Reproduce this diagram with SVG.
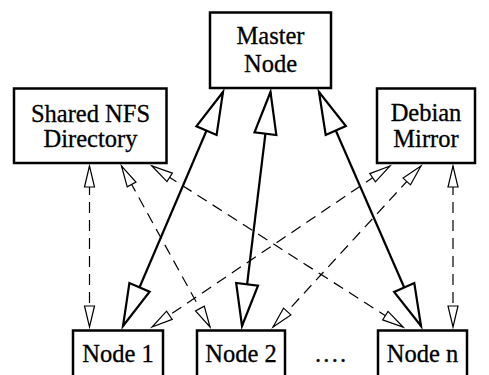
<svg xmlns="http://www.w3.org/2000/svg" width="489" height="375" viewBox="0 0 489 375">
  <style>
    .box { fill: #fff; stroke: #000; stroke-width: 2.5; }
    .lbl { fill: #000; stroke: #000; stroke-width: 0.3; text-anchor: middle; font-family: "Liberation Serif", "Times New Roman", serif; font-size: 24.5px; }
    .solid { fill: none; stroke: #000; stroke-width: 2.2; marker-start: url(#bigHead); marker-end: url(#bigHead); }
    .dash { fill: none; stroke: #000; stroke-width: 1.2; stroke-dasharray: 11 7; marker-start: url(#smallHead); marker-end: url(#smallHead); }
  </style>
  <defs>
    <!-- large hollow head for master links -->
    <marker id="bigHead" markerUnits="userSpaceOnUse" orient="auto-start-reverse" refX="0" refY="0" markerWidth="60" markerHeight="30" overflow="visible">
      <path d="M0,0 L-42,-11 L-42,11 Z" fill="#fff" stroke="#000" stroke-width="2.2" stroke-linejoin="miter" stroke-miterlimit="10"/>
    </marker>
    <!-- small hollow head for service links -->
    <marker id="smallHead" markerUnits="userSpaceOnUse" orient="auto-start-reverse" refX="0" refY="0" markerWidth="30" markerHeight="14" overflow="visible">
      <path d="M0,0 L-21,-5 L-21,5 Z" fill="#fff" stroke="#000" stroke-width="1.2" stroke-linejoin="miter" stroke-miterlimit="10"/>
    </marker>
  </defs>

  <g id="connectors">
    <!-- dashed service links -->
    <line class="dash" x1="89.5" y1="166" x2="89.5" y2="327"/>
    <line class="dash" x1="121.5" y1="166" x2="210" y2="327"/>
    <line class="dash" x1="152" y1="166" x2="403" y2="327"/>
    <line class="dash" x1="390" y1="166" x2="152" y2="327"/>
    <line class="dash" x1="421" y1="166" x2="273" y2="327"/>
    <line class="dash" x1="453" y1="166" x2="453" y2="327"/>
    <!-- master links -->
    <line class="solid" x1="223" y1="92" x2="123" y2="326"/>
    <line class="solid" x1="270.5" y1="92" x2="242" y2="326"/>
    <line class="solid" x1="319" y1="92" x2="421" y2="326"/>
  </g>

  <g id="master">
    <rect class="box" x="210" y="12.5" width="121" height="75.5"/>
    <text class="lbl" x="270.5" y="43.5">Master</text>
    <text class="lbl" x="270.5" y="71.5">Node</text>
  </g>

  <g id="nfs">
    <rect class="box" x="14" y="88.5" width="152.5" height="74.5"/>
    <text class="lbl" x="90.5" y="121.5">Shared NFS</text>
    <text class="lbl" x="90.5" y="147">Directory</text>
  </g>

  <g id="mirror">
    <rect class="box" x="377" y="88.5" width="98" height="74.5"/>
    <text class="lbl" x="426" y="120.5">Debian</text>
    <text class="lbl" x="426" y="147">Mirror</text>
  </g>

  <g id="node1">
    <rect class="box" x="73" y="330.5" width="90" height="60"/>
    <text class="lbl" x="118" y="362">Node 1</text>
  </g>

  <g id="node2">
    <rect class="box" x="197" y="330.5" width="88" height="60"/>
    <text class="lbl" x="241" y="362">Node 2</text>
  </g>

  <g id="ellipsis">
    <text class="lbl" x="315" y="362" style="text-anchor: start; letter-spacing: 2.2px">....</text>
  </g>

  <g id="noden">
    <rect class="box" x="378" y="330.5" width="89" height="60"/>
    <text class="lbl" x="422.5" y="362">Node n</text>
  </g>
</svg>
